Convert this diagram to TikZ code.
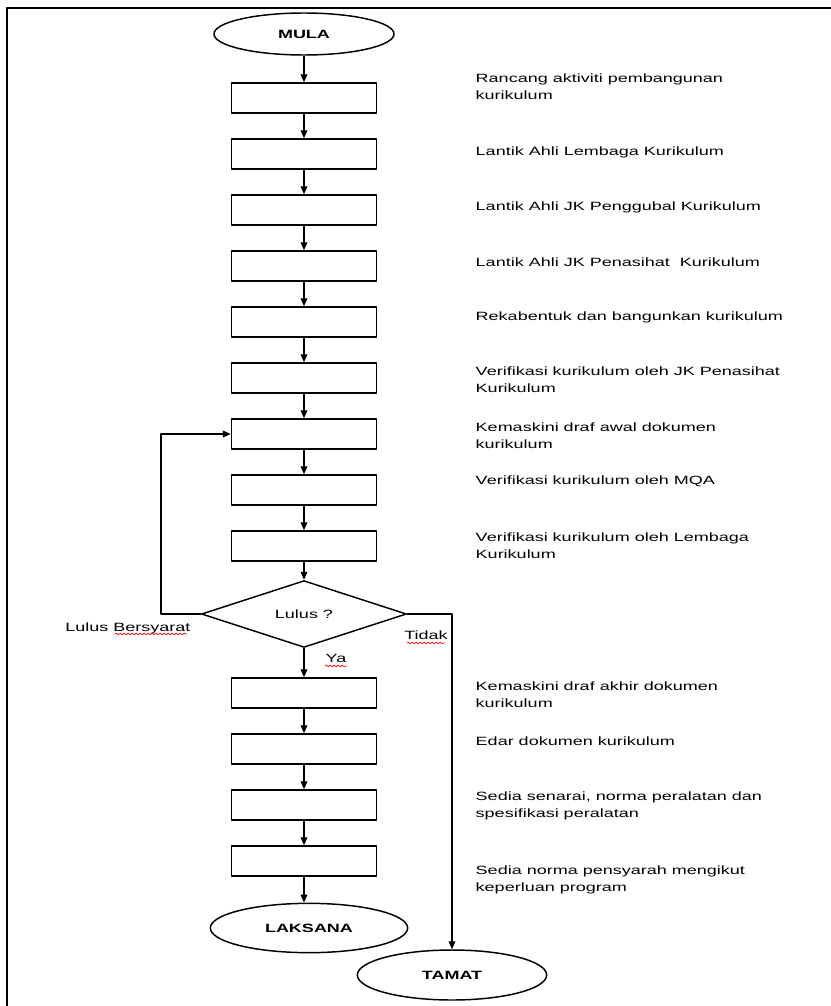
\documentclass[tikz,border=0pt]{standalone}
\usepackage{fontspec}
\setmainfont[FakeStretch=1.5]{Liberation Sans}
\usetikzlibrary{shapes.geometric,arrows.meta,decorations.pathmorphing}

\begin{document}
\begin{tikzpicture}[x=0.75pt, y=-0.75pt, font=\fontsize{9}{12.75}\selectfont, line join=round, line width=1.1pt, >={Triangle[length=6pt,width=5pt]},
		box/.style={draw, line width=1.1pt, minimum width=108.75pt, minimum height=22.5pt, inner sep=0pt},
		term/.style={draw, line width=1.1pt, ellipse, inner sep=0pt, font=\fontsize{9}{11}\selectfont\bfseries},
		note/.style={anchor=west, align=left, inner sep=0pt},
		spell/.style={red, line width=0.5pt, decorate, decoration={snake, amplitude=0.6pt, segment length=3pt}}]
	\useasboundingbox (0,0) rectangle (831,1006);
	\draw[line width=1.5pt] (7,1006) -- (7,8) -- (831,8);
	\node[term, minimum width=135pt, minimum height=31.5pt] (mula) at (304,34) {MULA};
	% langkah sebelum keputusan
	\foreach \y [count=\i] in {98,154,210,266,322,378,434,490,546}
		\node[box] (b\i) at (304,\y) {};
	\node[draw, line width=1.1pt, diamond, minimum width=153.75pt, minimum height=42.75pt, inner sep=0pt] (d) at (304,614) {Lulus ?};
	% langkah selepas keputusan
	\foreach \y [count=\i from 10] in {693,749,805,861}
		\node[box] (b\i) at (304,\y) {};
	\node[term, minimum width=148pt, minimum height=37pt] (laksana) at (309,928) {LAKSANA};
	\node[term, minimum width=142pt, minimum height=37.5pt] (tamat) at (452,975) {TAMAT};
	% keterangan
	\node[note] (t1) at (475,86.5) {Rancang aktiviti pembangunan\\kurikulum};
	\node[note] (t2) at (475,152) {Lantik Ahli Lembaga Kurikulum};
	\node[note] (t3) at (475,207) {Lantik Ahli JK Penggubal Kurikulum};
	\node[note] (t4) at (475,262) {Lantik Ahli JK Penasihat\ \ Kurikulum};
	\node[note] (t5) at (475,317) {Rekabentuk dan bangunkan kurikulum};
	\node[note] (t6) at (475,379.5) {Verifikasi kurikulum oleh JK Penasihat\\Kurikulum};
	\node[note] (t7) at (475,435.5) {Kemaskini draf awal dokumen\\kurikulum};
	\node[note] (t8) at (475,481) {Verifikasi kurikulum oleh MQA};
	\node[note] (t9) at (475,545.5) {Verifikasi kurikulum oleh Lembaga\\Kurikulum};
	\node[note] (t10) at (475,694.5) {Kemaskini draf akhir dokumen\\kurikulum};
	\node[note] (t11) at (475,741) {Edar dokumen kurikulum};
	\node[note] (t12) at (475,806) {Sedia senarai, norma peralatan dan\\spesifikasi peralatan};
	\node[note] (t13) at (475,880) {Sedia norma pensyarah mengikut\\keperluan program};
	\node (lb) at (128,628) {Lulus Bersyarat};
	\node (tidak) at (426,635) {Tidak};
	\node (ya) at (336,658) {Ya};
	% anak panah
	\draw[->] (mula) -- (b1);
	\foreach \i [evaluate=\i as \j using int(\i+1)] in {1,...,8}
		\draw[->] (b\i) -- (b\j);
	\draw[->] (b9) -- (d);
	\draw[->] (d) -- (b10);
	\foreach \i [evaluate=\i as \j using int(\i+1)] in {10,11,12}
		\draw[->] (b\i) -- (b\j);
	\draw[->] (b13) -- (laksana.north -| b13);
	\coordinate (kiri) at (161,614);
	\coordinate (kanan) at (452,614);
	\draw[->] (d.west) -- (kiri) |- (b7);
	\draw[->] (d.east) -- (kanan) -- (tamat);
	% garis ejaan
	\draw[spell] (115,634) -- (187,634);
	\draw[spell] (407,643) -- (445,643);
	\draw[spell] (325,666) -- (347,666);
\end{tikzpicture}
\end{document}
